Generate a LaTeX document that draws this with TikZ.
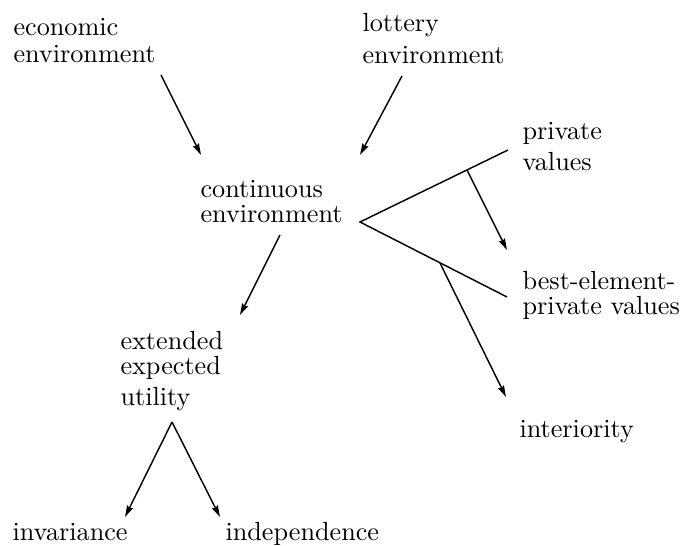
\documentclass[tikz,border=0pt]{standalone}
\usetikzlibrary{arrows.meta}
\begin{document}
\begin{tikzpicture}[x=0.3817pt,y=-0.3817pt,
  lbl/.style={anchor=base west,inner sep=0pt,align=left,font=\fontsize{10}{10}\selectfont},
  arr/.style={line width=0.55pt,-{Stealth[length=4.4pt,width=2.5pt,inset=0.6pt]}},
  ln/.style={line width=0.55pt}]
\useasboundingbox (0,0) rectangle (683,546);
% text nodes (anchored at the baseline of the last line)
\node[lbl] (eco) at (13,62) {economic\\[0.3pt]environment};
\node[lbl] (lot) at (362,63) {lottery\\[2pt]environment};
\node[lbl] (cont) at (200,222) {continuous\\[-0.5pt]environment};
\node[lbl] (pv) at (522,170) {private\\[1.5pt]values};
\node[lbl] (bepv) at (522,314) {best-element-\\[-0.8pt]private values};
\node[lbl] (int) at (519,437) {interiority};
\node[lbl] (eeu) at (120,405) {extended\\[-0.5pt]expected\\[1.5pt]utility};
\node[lbl] (inv) at (12,540) {invariance};
\node[lbl] (ind) at (225,540) {independence};
% connector end points
\coordinate (ecoS) at (161,75);
\coordinate (contNW) at (201,155);
\coordinate (lotS) at (402,76);
\coordinate (contNE) at (360,155);
\coordinate (contS) at (280,235);
\coordinate (eeuN) at (240,315);
\coordinate (apex) at (360,222);
\coordinate (pvW) at (508,150);
\coordinate (bepvW) at (507,297);
\coordinate (upA) at (467,170);
\coordinate (bepvN) at (507,250);
\coordinate (loA) at (440,263);
\coordinate (intN) at (506,397);
\coordinate (eeuS) at (172,422);
\coordinate (invN) at (125,517);
\coordinate (indN) at (220,517);
% connectors
\draw[arr] (ecoS) -- (contNW);
\draw[arr] (lotS) -- (contNE);
\draw[arr] (contS) -- (eeuN);
\draw[ln] (pvW) -- (apex) -- (bepvW);
\draw[arr] (upA) -- (bepvN);
\draw[arr] (loA) -- (intN);
\draw[arr] (eeuS) -- (invN);
\draw[arr] (eeuS) -- (indN);
\end{tikzpicture}
\end{document}
